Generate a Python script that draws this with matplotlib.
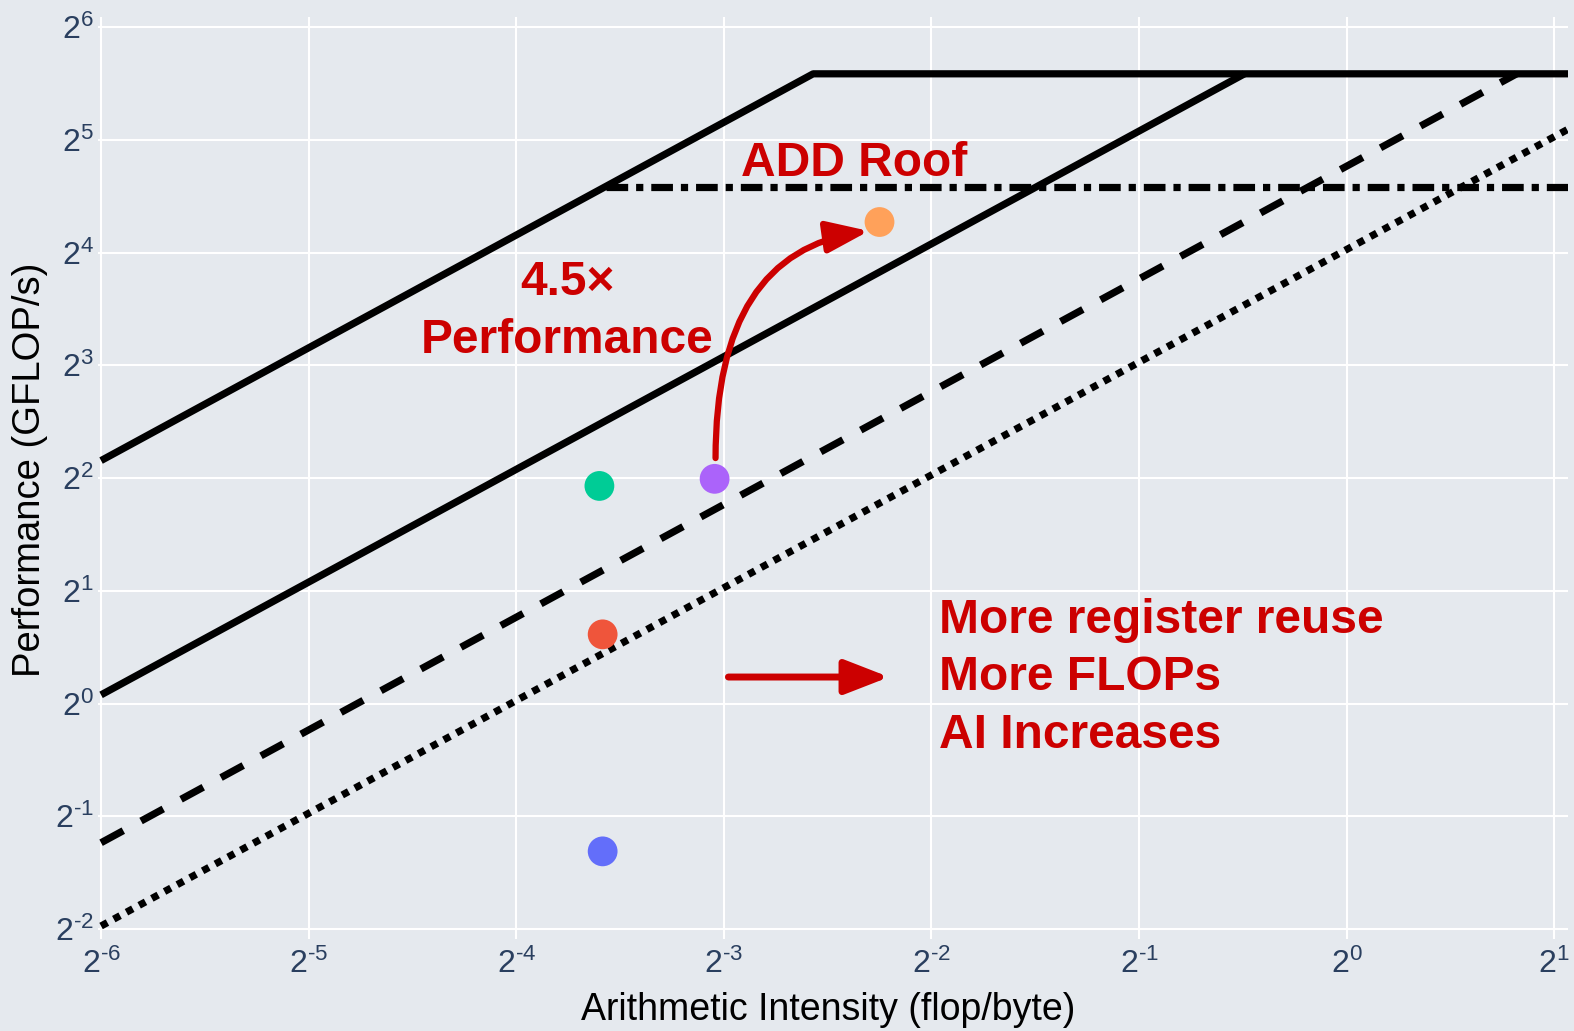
import math
import matplotlib.pyplot as plt
from matplotlib.ticker import FixedLocator, FuncFormatter, NullLocator

plt.rcParams['font.family'] = ['Liberation Sans', 'DejaVu Sans']
plt.rcParams['mathtext.fontset'] = 'custom'
plt.rcParams['mathtext.rm'] = 'Liberation Sans'
plt.rcParams['mathtext.it'] = 'Liberation Sans:italic'
plt.rcParams['mathtext.bf'] = 'Liberation Sans:bold'

# roofs in GFLOP/s, memory bandwidths in GB/s
peak_gflops = 48.0
add_gflops = 24.0
bandwidths = [285.0, 67.5, 27.2, 16.3]
bw_styles = ['solid', 'solid', (0, (3.5, 2.8)), (0, (1, 1))]

# measured kernels: arithmetic intensity (flop/byte) and GFLOP/s
kernel_ai = [0.0834, 0.0834, 0.0825, 0.1212, 0.2102]
kernel_perf = [0.403, 1.53, 3.81, 3.98, 19.3]
kernel_colors = ['#636EFA', '#EF553B', '#00CC96', '#AB63FA', '#FFA15A']

x_exps = list(range(-6, 2))
y_exps = list(range(-2, 7))

RED = '#CC0000'
BG = '#E5E9EE'
INK = '#2a3f5f'
LW = 5.2

fig = plt.figure(figsize=(15.74, 10.31), dpi=100, facecolor=BG)
ax = fig.add_axes([0.0623, 0.0892, 0.9339, 0.8943])
ax.set_facecolor(BG)
ax.set_xscale('log', base=2)
ax.set_yscale('log', base=2)
ax.set_xlim(2**-6.0145, 2**1.0665)
ax.set_ylim(2**-2.0887, 2**6.0887)

x0 = 2.0**-6
x_end = 2.0**1.2

# bandwidth ceilings, the first one carries the compute roof
for i, (bw, ls) in enumerate(zip(bandwidths, bw_styles)):
    ridge = peak_gflops / bw
    if i == 0:
        xs = [x0, ridge, x_end]
        ys = [bw * x0, peak_gflops, peak_gflops]
    else:
        x1 = min(ridge, x_end)
        xs = [x0, x1]
        ys = [bw * x0, bw * x1]
    ax.plot(xs, ys, color='black', lw=LW, ls=ls, solid_capstyle='butt',
            dash_capstyle='butt', zorder=3)

# ADD-only roof
ax.plot([add_gflops / bandwidths[0], x_end], [add_gflops, add_gflops],
        color='black', lw=LW, ls=(0, (3, 1.1, 1, 1.1)), dash_capstyle='butt',
        zorder=3)

ax.scatter(kernel_ai, kernel_perf, s=460, c=kernel_colors, linewidths=0, zorder=4)


def pow2_label(v, pos):
    e = round(math.log2(v))
    sign = r'\text{-}' if e < 0 else ''
    return r'$\mathregular{2^{%s%d}}$' % (sign, abs(e))


ax.xaxis.set_major_locator(FixedLocator([2.0**e for e in x_exps]))
ax.yaxis.set_major_locator(FixedLocator([2.0**e for e in y_exps]))
ax.xaxis.set_minor_locator(NullLocator())
ax.yaxis.set_minor_locator(NullLocator())
ax.xaxis.set_major_formatter(FuncFormatter(pow2_label))
ax.yaxis.set_major_formatter(FuncFormatter(pow2_label))
ax.tick_params(axis='both', length=0, labelsize=23, labelcolor=INK)
ax.tick_params(axis='x', pad=7)
ax.tick_params(axis='y', pad=3)

ax.grid(True, color='white', lw=1.5)
ax.set_axisbelow(True)
for s in ax.spines.values():
    s.set_visible(False)

ax.set_xlabel('Arithmetic Intensity (flop/byte)', fontsize=27, color='black', va='center')
ax.xaxis.set_label_coords(0.4966, -0.077)
ax.set_ylabel('Performance (GFLOP/s)', fontsize=27.5, color='black', va='center')
ax.yaxis.set_label_coords(-0.0463, 0.509)

# annotations
ax.text(2**-2.373, 2**4.681, 'ADD Roof', color=RED, fontsize=34.5,
        fontweight='bold', ha='center', va='baseline', zorder=6)
ax.text(2**-3.755, 2**3.109, '4.5×\nPerformance', color=RED, fontsize=34.5,
        fontweight='bold', ha='center', va='baseline', multialignment='center',
        linespacing=1.36, zorder=6)
ax.text(2**-1.965, 2**-0.395, 'More register reuse\nMore FLOPs\nAI Increases',
        color=RED, fontsize=34.5, fontweight='bold', ha='left', va='baseline',
        linespacing=1.36, zorder=6)

ax.annotate('', xy=(2**-2.301, 2**4.191), xytext=(2**-3.040, 2**2.177),
            arrowprops=dict(arrowstyle='-|>,head_length=0.8,head_width=0.3',
                            connectionstyle='angle3,angleA=90,angleB=8',
                            color=RED, lw=4.5, mutation_scale=32,
                            shrinkA=0, shrinkB=0), zorder=6)
ax.annotate('', xy=(2**-2.204, 2**0.235), xytext=(2**-2.978, 2**0.235),
            arrowprops=dict(arrowstyle='-|>,head_length=0.9,head_width=0.35',
                            color=RED, lw=5, mutation_scale=30,
                            shrinkA=0, shrinkB=0), zorder=6)

fig.savefig('out.png', dpi=100, facecolor=BG)
